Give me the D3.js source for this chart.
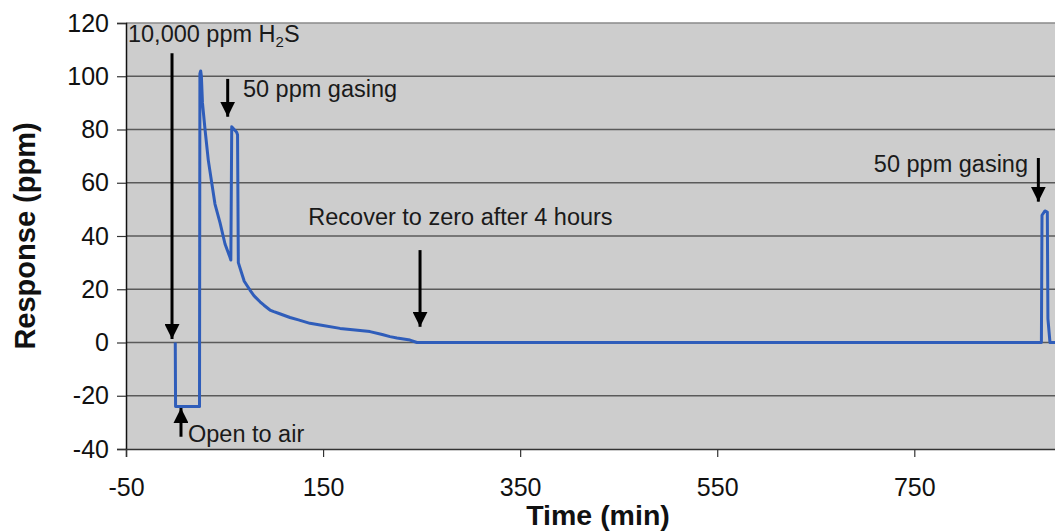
<!DOCTYPE html>
<html><head><meta charset="utf-8">
<script src="https://cdn.jsdelivr.net/npm/d3@7"></script>
<style>
html,body{margin:0;padding:0;background:#fff;}
svg{display:block;font-family:"Liberation Sans",Arial,sans-serif;}
</style></head>
<body>
<svg id="chart" width="1055" height="532"></svg>
<script>
// ---- data ----
const timeMin = [0, 0.3, 24.6, 25, 25.8, 26.5, 27.6, 30.2, 33.5, 37, 40.3, 45.4, 50.5, 55.5, 56.4, 57.3, 62.3, 63.2, 64, 67.4, 70, 75.8, 80, 86, 90, 96.1, 100, 106, 116.4, 125, 136.7, 150, 167.2, 180, 197.6, 210, 217.9, 225, 238.2, 245.3, 879, 879.6, 882.6, 885, 885.6, 887.7, 895];
const response = [0, -24, -24, 101, 102, 100, 90, 80, 68.5, 60, 52, 45, 37, 32, 31, 81, 79, 78, 30, 26, 23, 19.7, 17.5, 15.3, 14, 12.2, 11.6, 10.8, 9.4, 8.5, 7.2, 6.4, 5.3, 4.8, 4.1, 3.0, 2.2, 1.7, 0.9, 0, 0, 47.8, 49.4, 49, 9, 0, 0];
const xTicks = [-50, 150, 350, 550, 750];
const yTicks = [-40, -20, 0, 20, 40, 60, 80, 100, 120];
const noteText = ["10,000 ppm H", "50 ppm gasing", "Open to air", "Recover to zero after 4 hours", "50 ppm gasing"];
const noteX = [-48, 68.7, 12.9, 135, 865.4];
const noteY = [112.9, 92.3, -37.3, 44.1, 64.2];
const arrowX = [-3.3, 53.2, 5.8, 248.4, 875.9];
const arrowFrom = [108.6, 99, -35.4, 34.7, 69.3];
const arrowTo = [1.3, 84.8, -24.6, 5.9, 52.9];

// ---- layout ----
const L = 126, T = 23, B = 449;
const x = d3.scaleLinear().domain([-50, 950]).range([L, L + 1000 * 0.98537]);
const y = d3.scaleLinear().domain([-40, 120]).range([B, T]);
const svg = d3.select("#chart");
const W = 1055;
const fmt = d => String(d);

const defs = svg.append("defs");
defs.append("clipPath").attr("id", "clip").append("rect")
  .attr("x", L).attr("y", T - 2).attr("width", W - L).attr("height", B - T + 4);
defs.append("marker").attr("id", "ah").attr("viewBox", "0 0 10 10")
  .attr("refX", 10).attr("refY", 5).attr("markerWidth", 5).attr("markerHeight", 5)
  .attr("markerUnits", "strokeWidth").attr("orient", "auto")
  .append("path").attr("d", "M0,0 L10,5 L0,10 Z").attr("fill", "#000");

// plot background
svg.append("rect").attr("x", L).attr("y", T).attr("width", W - L).attr("height", B - T)
  .attr("fill", "#cdcdcd");

// gridlines
svg.append("g").selectAll("line").data(yTicks.filter(v => v > -40)).join("line")
  .attr("x1", L).attr("x2", W).attr("y1", d => y(d)).attr("y2", d => y(d))
  .attr("stroke", d => d === 120 ? "#8a8a8a" : "#5a5a5a").attr("stroke-width", 1.3);

// axes
const yAxis = d3.axisLeft(y).tickValues(yTicks).tickSize(9).tickPadding(8).tickFormat(fmt);
const gy = svg.append("g").attr("transform", `translate(${L},0)`).call(yAxis);
gy.select(".domain").attr("stroke", "#111").attr("stroke-width", 1.5);
gy.selectAll(".tick line").attr("stroke", "#333").attr("stroke-width", 1.2);
gy.selectAll(".tick text").attr("font-size", 25).attr("fill", "#111")
  .attr("font-family", "'Liberation Sans',Arial,sans-serif");

const xAxis = d3.axisBottom(x).tickValues(xTicks).tickSize(8).tickPadding(21).tickFormat(fmt);
const gx = svg.append("g").attr("transform", `translate(0,${B})`).call(xAxis);
gx.select(".domain").attr("stroke", "#333").attr("stroke-width", 1.5);
gx.selectAll(".tick line").attr("stroke", "#333").attr("stroke-width", 1.2);
gx.selectAll(".tick text").attr("font-size", 25).attr("fill", "#111")
  .attr("font-family", "'Liberation Sans',Arial,sans-serif");

// series
const pts = timeMin.map((t, i) => [t, response[i]]);
svg.append("path").datum(pts)
  .attr("clip-path", "url(#clip)")
  .attr("fill", "none").attr("stroke", "#2f5dba").attr("stroke-width", 3)
  .attr("stroke-linejoin", "round")
  .attr("d", d3.line().x(d => x(d[0])).y(d => y(d[1])));

// arrows
svg.append("g").selectAll("line").data(arrowX).join("line")
  .attr("x1", d => x(d)).attr("x2", d => x(d))
  .attr("y1", (d, i) => y(arrowFrom[i]))
  .attr("y2", (d, i) => y(arrowTo[i]))
  .attr("stroke", "#000").attr("stroke-width", 3)
  .attr("marker-end", "url(#ah)");

// annotation texts
const notes = svg.append("g").attr("font-size", 23.5).attr("fill", "#1a1a1a");
noteText.forEach((s, i) => {
  const t = notes.append("text").attr("x", x(noteX[i])).attr("y", y(noteY[i]))
    .attr("text-anchor", i === 4 ? "end" : "start").text(s);
  if (i === 0) {
    t.append("tspan").attr("font-size", 15).attr("dy", 5).text("2");
    t.append("tspan").attr("dy", -5).text("S");
  }
});

// axis titles
svg.append("text").attr("x", 598).attr("y", 525).attr("text-anchor", "middle")
  .attr("font-size", 28.5).attr("font-weight", "bold").attr("fill", "#111").text("Time (min)");
svg.append("text").attr("transform", "translate(35,236) rotate(-90)").attr("text-anchor", "middle")
  .attr("font-size", 29).attr("font-weight", "bold").attr("fill", "#111").text("Response (ppm)");
</script>
</body></html>
